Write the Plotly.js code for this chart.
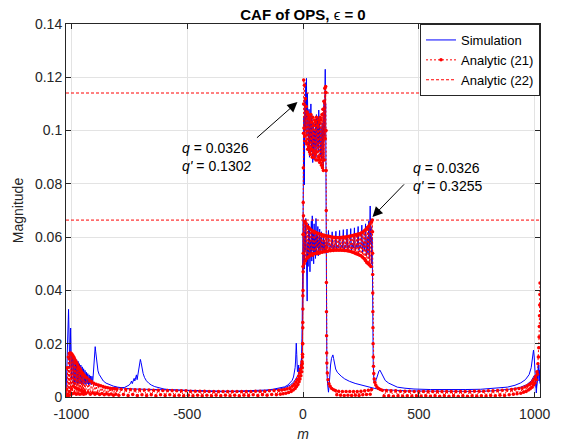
<!DOCTYPE html>
<html><head><meta charset="utf-8">
<script src="https://cdn.plot.ly/plotly-3.0.1.min.js"></script>
<style>html,body{margin:0;padding:0;background:#fff}#chart{width:566px;height:443px}</style>
</head><body><div id="chart"></div>
<script>
// ---- tick labels ----
const xTickVals = [-1000, -500, 0, 500, 1000];
const xTickText = ['-1000', '-500', '0', '500', '1000'];
const yTickVals = [0, 0.02, 0.04, 0.06, 0.08, 0.1, 0.12, 0.14];
const mRange = [-1023, 1023];

// ---- Analytic (22) levels ----
const eq22Levels = [0.1141, 0.0664];

// ---- Simulation, first branch [m, magnitude] ----
const simA = [
[-1023,0.000],[-1021,0.006],[-1019,0.012],[-1017,0.020],[-1015,0.027],[-1013,0.032],[-1012,0.0329],[-1011,0.029],[-1009,0.019],[-1007,0.011],[-1005,0.016],[-1003,0.0259],[-1001,0.017],[-999,0.007],[-997,0.0165],
[-995,0.0160],[-992,0.0050],[-989,0.0152],[-986,0.0046],[-983,0.0147],[-980,0.0052],[-977,0.0140],[-974,0.0047],[-971,0.0134],[-968,0.0051],[-965,0.0125],[-962,0.0049],[-959,0.0120],[-956,0.0050],[-953,0.0113],[-950,0.0048],[-947,0.0106],[-944,0.0050],[-941,0.0100],[-938,0.0047],[-935,0.0093],[-932,0.0049],[-929,0.0088],[-926,0.0046],[-923,0.0083],[-920,0.0048],[-917,0.0079],[-914,0.0046],[-911,0.0078],[-908,0.0050],[-905,0.0088],
[-903,0.0105],[-901,0.0135],[-899,0.0165],[-897,0.0189],[-895,0.0172],[-892,0.0140],[-889,0.0115],[-885,0.0098],[-880,0.0085],[-872,0.0072],[-862,0.0060],[-850,0.0052],[-835,0.0046],[-819,0.0041],[-800,0.0037],[-780,0.0034],[-761,0.0032],[-730,0.0030],[-689,0.0029],[-650,0.0028],[-617,0.0027],[-545,0.0025],[-500,0.0024],[-450,0.0023],[-400,0.0022],[-350,0.0022],[-300,0.0022],[-250,0.0023],[-200,0.0024],[-160,0.0026],[-130,0.0029],[-100,0.0033],[-80,0.0038],[-65,0.0045],[-55,0.0053],[-47,0.0062],[-41,0.0075],[-37,0.0090],[-34,0.0110],[-32,0.0135],[-30,0.0170],[-29,0.0202],[-27,0.0160],[-26,0.0120],[-24,0.0095],[-22,0.0100],[-20,0.0120],[-18,0.0090],[-15,0.0100],[-12,0.0110],[-9,0.0125],[-6,0.0150],[-4,0.0220],[-2,0.0450],[0,0.0800],
[2,0.0800],[4,0.105],[6,0.0796],[8,0.112],[10,0.100],[12,0.118],[14,0.105],[15,0.1196],[17,0.098],[19,0.114],[21,0.095],[22,0.114],[24,0.092],[26,0.108],[28,0.090],[30,0.104],[32,0.0953],[34,0.110],[36,0.092],[38,0.106],[40,0.1015],[42,0.088],[44,0.103],[46,0.092],[48,0.089],[50,0.100],[52,0.094],[54,0.104],[56,0.090],[58,0.106],[61,0.094],[63,0.105],[66,0.092],[68,0.1077],[70,0.095],[72,0.104],[74,0.090],[76,0.0927],[78,0.101],[80,0.089],[83,0.1028],[85,0.092],[87,0.0864],[89,0.105],[91,0.1115],[93,0.098],[94,0.117],[96,0.123],[97,0.105],[98,0.110],[99,0.085],[100,0.045],
[101,0.025],[103,0.010],[106,0.005],[110,0.0018],[113,0.0045],[116,0.0090],[119,0.0120],[123,0.0145],[126,0.0155],[129,0.0158],[132,0.0145],[136,0.0122],[141,0.0105],[148,0.0093],[156,0.0085],[165,0.0078],[180,0.0068],[200,0.0059],[225,0.0051],[250,0.0045],[280,0.0038],[310,0.0032],[335,0.0028],[380,0.0025],[450,0.0023],[550,0.0022],[650,0.0021],[750,0.0021],[820,0.0023],[870,0.0026],[910,0.0031],[940,0.0037],[965,0.0046],[985,0.0060],[998,0.0080],[1003,0.0060],[1007,0.0035],[1011,0.0060],[1015,0.0095],[1018,0.0120],[1021,0.0070],[1023,0.0050]
];

// ---- Simulation, second branch ----
const simB = [
[-905,0.0050],[-900,0.0046],[-890,0.0043],[-880,0.0041],[-860,0.0038],[-840,0.0036],[-815,0.0034],[-790,0.0034],[-770,0.0036],[-758,0.0040],[-750,0.0045],[-744,0.0052],[-740,0.0060],[-737,0.0050],[-733,0.0062],[-729,0.0070],[-726,0.0060],[-722,0.0078],[-719,0.0083],[-716,0.0065],[-712,0.0088],[-708,0.0110],[-705,0.0130],[-702,0.0141],[-699,0.0130],[-695,0.0108],[-690,0.0088],[-684,0.0073],[-676,0.0061],[-666,0.0052],[-655,0.0045],[-640,0.0039],[-620,0.0034],[-600,0.0030],[-570,0.0027],[-530,0.0025],[-480,0.0023],[-420,0.0021],[-350,0.0020],[-280,0.0020],[-220,0.0021],[-170,0.0023],[-130,0.0026],[-100,0.0030],[-75,0.0036],[-55,0.0045],[-40,0.0056],[-30,0.0068],[-22,0.0080],[-16,0.0095],[-11,0.0105],[-7,0.0130],[-4,0.0180],[-2,0.0280],[0,0.0400],
[2,0.052],[4,0.066],[6,0.048],[8,0.062],[10,0.055],[12,0.067],[14,0.050],[16,0.060],[18,0.036],[20,0.058],[22,0.049],[24,0.065],[26,0.053],[28,0.063],[30,0.047],[32,0.059],[34,0.054],[36,0.066],[38,0.051],[40,0.068],[42,0.055],[44,0.062],[46,0.050],[48,0.065],[50,0.054],[52,0.060],[54,0.052],[56,0.067],[58,0.054],[60,0.061],[62,0.056],[64,0.064],[66,0.053],[68,0.059],[70,0.055],[72,0.063],[74,0.054],[76,0.060],[78,0.056],[80,0.062],[82,0.055],[84,0.058],[86,0.054],[88,0.061],[90,0.055],[92,0.059],[94,0.054],[96,0.057],[98,0.055],[100,0.058],
[102,0.057],[106,0.056],[110,0.0625],[113,0.055],[118,0.057],[122,0.056],[126,0.062],[129,0.055],[134,0.057],[138,0.056],[142,0.0622],[145,0.055],[150,0.057],[154,0.056],[158,0.0625],[161,0.055],[166,0.057],[170,0.056],[174,0.0628],[177,0.055],[182,0.057],[186,0.056],[190,0.063],[193,0.055],[198,0.057],[202,0.056],[206,0.0632],[209,0.055],[214,0.057],[218,0.056],[222,0.0635],[225,0.055],[230,0.057],[234,0.056],[238,0.064],[241,0.055],[246,0.057],[250,0.056],[254,0.0645],[257,0.054],[262,0.058],[266,0.055],[270,0.065],[273,0.053],[277,0.060],[280,0.054],[284,0.066],[286,0.052],[288,0.064],[290,0.0717],[292,0.058],[294,0.064],[296,0.050],[298,0.060],[300,0.045],
[301,0.030],[303,0.013],[306,0.006],[310,0.005],[316,0.0065],[322,0.0085],[328,0.0098],[332,0.0101],[337,0.0092],[345,0.0075],[355,0.0062],[370,0.0052],[390,0.0043],[407,0.0037],[440,0.0033],[479,0.0030],[550,0.0028],[623,0.0027],[700,0.0028],[767,0.0029],[830,0.0032],[882,0.0037],[915,0.0044],[940,0.0053],[960,0.0065],[976,0.0084],[985,0.0110],[991,0.0145],[995,0.0176],[998,0.0150],[1001,0.0100],[1004,0.0030],[1007,0.0015],[1010,0.0050],[1013,0.0100],[1016,0.0120],[1019,0.0060],[1021,0.0100],[1023,0.0080]
];

// ---- Analytic (21), first branch ----
const anaA = [
[-1023,0.0000],[-1021,0.0030],[-1019,0.0004],[-1017,0.0110],[-1015,0.0010],[-1013,0.0150],[-1011,0.0006],[-1009,0.0163],[-1007,0.0020],[-1005,0.0165],[-1003,0.0008],[-1001,0.0164],[-999,0.0030],[-997,0.0160],[-995,0.0012],[-993,0.0155],[-991,0.0040],[-989,0.0149],[-987,0.0015],[-985,0.0141],[-983,0.0035],[-981,0.0134],[-979,0.0010],[-977,0.0128],[-975,0.0030],[-973,0.0121],[-971,0.0012],[-969,0.0114],[-967,0.0028],[-965,0.0108],[-963,0.0010],[-961,0.0102],[-959,0.0025],[-957,0.0096],[-955,0.0012],[-953,0.0091],[-951,0.0022],[-949,0.0086],[-947,0.0010],[-945,0.0082],[-943,0.0020],[-941,0.0078],
[-938,0.0012],[-933,0.0072],[-928,0.0018],[-923,0.0065],[-918,0.0010],[-913,0.0058],[-908,0.0016],[-903,0.0052],[-898,0.0010],[-893,0.0048],[-888,0.0014],[-883,0.0045],[-878,0.0009],[-873,0.0042],[-868,0.0013],[-863,0.0039],[-858,0.0008],[-853,0.0037],[-848,0.0012],[-843,0.0035],[-838,0.0008],[-833,0.0033],[-828,0.0011],[-823,0.0032],[-818,0.0007],[-813,0.0031],[-808,0.0010],[-803,0.0030],
[-795,0.0007],[-785,0.0029],[-775,0.0009],[-765,0.0028],[-755,0.0006],[-745,0.0028],[-735,0.0009],[-725,0.0027],[-715,0.0006],[-705,0.0027],[-695,0.0008],[-685,0.0026],[-675,0.0006],[-665,0.0026],[-655,0.0008],[-645,0.0025],[-635,0.0005],[-625,0.0025],[-615,0.0008],[-605,0.0024],[-595,0.0006],[-585,0.0024],[-575,0.0008],[-565,0.0024],[-555,0.0005],[-545,0.0023],[-535,0.0007],[-525,0.0023],[-515,0.0005],[-505,0.0023],[-495,0.0007],[-485,0.0022],[-475,0.0005],[-465,0.0022],[-455,0.0007],[-445,0.0022],[-435,0.0005],[-425,0.0022],[-415,0.0007],[-405,0.0021],[-395,0.0005],[-385,0.0021],[-375,0.0007],[-365,0.0021],[-355,0.0005],[-345,0.0021],[-335,0.0007],[-325,0.0021],[-315,0.0005],[-305,0.0021],[-295,0.0007],[-285,0.0021],[-275,0.0005],[-265,0.0021],[-255,0.0007],[-245,0.0021],[-235,0.0006],[-225,0.0021],[-215,0.0008],[-205,0.0022],[-195,0.0006],[-185,0.0022],[-175,0.0008],[-165,0.0022],[-155,0.0007],[-145,0.0023],[-135,0.0009],[-125,0.0024],[-115,0.0008],[-105,0.0025],
[-98,0.0010],[-92,0.0026],[-86,0.0012],[-80,0.0028],[-74,0.0014],[-68,0.0031],[-62,0.0017],[-56,0.0035],[-51,0.0021],[-46,0.0041],[-42,0.0026],[-38,0.0048],[-34,0.0032],[-31,0.0056],[-28,0.0039],[-25,0.0066],[-22,0.0047],[-19,0.0078],[-17,0.0057],[-15,0.0090],[-13,0.0068],[-11,0.0104],[-9,0.0080],[-7,0.0118],[-5,0.0095],[-4,0.0132],[-3,0.0110],[-2,0.0150],
[-1.5,0.020],[-1,0.028],[-0.5,0.038],[0,0.049],[0.5,0.061],[1,0.073],[1.5,0.086],[2,0.099],[2.5,0.110],[3,0.119],
[4,0.101],[6,0.117],[8,0.098],[10,0.112],[12,0.096],[14,0.109],[16,0.095],[18,0.107],[20,0.093],[22,0.106],[24,0.094],[26,0.105],[28,0.092],[30,0.104],[32,0.091],[34,0.106],[36,0.093],[38,0.103],[40,0.090],[42,0.105],[44,0.092],[46,0.102],[48,0.090],[50,0.104],[52,0.091],[54,0.103],[56,0.089],[58,0.105],[60,0.092],[62,0.102],[64,0.089],[66,0.104],[68,0.090],[70,0.103],[72,0.088],[74,0.105],[76,0.089],[78,0.104],[80,0.087],[82,0.106],[84,0.086],[86,0.108],[88,0.085],[90,0.111],[92,0.089],[94,0.1159],[96,0.097],[98,0.1165],
[99,0.1143],[99.5,0.100],[100,0.085],[100.3,0.070],[100.6,0.056],[101,0.043],[101.4,0.032],[101.8,0.023],[102.3,0.0165],[103,0.0128],[105,0.0090],[108,0.0065],[112,0.0050],[117,0.0040],[124,0.0032],[132,0.0027],[140,0.0024],
[146,0.0008],[154,0.0022],[162,0.0007],[170,0.0021],[178,0.0006],[186,0.0021],[194,0.0007],[202,0.0021],[210,0.0006],[218,0.0021],[226,0.0007],[234,0.0021],[242,0.0006],[250,0.0022],[258,0.0008],[266,0.0023],[274,0.0009],[282,0.0025],[290,0.0010],[296,0.0028]
];

// ---- Analytic (21), second branch ----
const anaB = [
[-3,0.0125],[-2,0.016],[-1.5,0.020],[-1,0.026],[-0.5,0.033],[0,0.040],[0.5,0.047],[1,0.054],[1.5,0.061],[2,0.068],
[5,0.050],[8,0.066],[11,0.051],[14,0.065],[17,0.052],[20,0.064],[23,0.0525],[26,0.0635],[29,0.053],[32,0.063],[35,0.0535],[38,0.0625],[41,0.0532],[44,0.0622],[47,0.0538],[50,0.062],[53,0.054],[56,0.0617],[59,0.0538],[62,0.0615],[65,0.0542],[68,0.0613],[71,0.054],[74,0.0612],[77,0.0544],[80,0.061],[83,0.0543],[86,0.0608],[89,0.0546],[92,0.0607],[95,0.0545],[98,0.0605],[101,0.0548],[104,0.0604],[107,0.0547],[110,0.0603],[113,0.055],[116,0.0602],[119,0.0549],[122,0.0601],[125,0.0551],[128,0.060],[131,0.055],[134,0.060],[137,0.0552],[140,0.0599],[143,0.0551],[146,0.0599],[149,0.0552],[152,0.0598],[155,0.0551],[158,0.0599],[161,0.0552],[164,0.0599],[167,0.0551],[170,0.060],[173,0.0551],[176,0.060],[179,0.055],[182,0.0601],[185,0.055],[188,0.0601],[191,0.0549],[194,0.0602],[197,0.0548],[200,0.0603],[203,0.0547],[206,0.0604],[209,0.0545],[212,0.0605],[215,0.0543],[218,0.0607],[221,0.0541],[224,0.0608],[227,0.0539],[230,0.061],[233,0.0537],[236,0.0611],[239,0.0535],[242,0.0613],[245,0.0532],[248,0.0614],[251,0.053],[254,0.0617],[257,0.0525],[260,0.062],[263,0.052],[266,0.0625],[269,0.0512],[272,0.063],[275,0.0505],[278,0.0636],[281,0.050],[284,0.0642],[287,0.0495],[290,0.065],[293,0.049],[296,0.0658],[299,0.0664],
[300,0.062],[300.4,0.054],[300.8,0.046],[301.2,0.039],[301.6,0.032],[302,0.026],[302.6,0.020],[303.3,0.015],[304.2,0.0115],[305.5,0.0088],[307.5,0.0068],[310,0.0055],[314,0.0045],[319,0.0038],[326,0.0032],[334,0.0028],[342,0.0025],
[350,0.0004],[360,0.0024],[370,0.0005],[380,0.0023],[390,0.0003],[400,0.0023],[410,0.0005],[420,0.0022],[430,0.0003],[440,0.0022],[450,0.0005],[460,0.0022],[470,0.0003],[480,0.0021],[490,0.0005],[500,0.0021],[510,0.0003],[520,0.0021],[530,0.0005],[540,0.0021],[550,0.0003],[560,0.0021],[570,0.0005],[580,0.0021],[590,0.0003],[600,0.0021],[610,0.0005],[620,0.0021],[630,0.0003],[640,0.0021],[650,0.0005],[660,0.0021],[670,0.0003],[680,0.0021],[690,0.0005],[700,0.0021],[710,0.0003],[720,0.0021],[730,0.0005],[740,0.0022],[750,0.0003],[760,0.0022],[770,0.0005],[780,0.0022],[790,0.0004],[800,0.0023],[810,0.0006],[820,0.0023],[830,0.0005],[840,0.0024],[850,0.0007],[860,0.0025],[870,0.0006],[880,0.0026],[890,0.0008],[900,0.0028],[908,0.0010],[916,0.0030],[924,0.0012],[932,0.0032],[940,0.0014],[946,0.0034],[952,0.0018],[958,0.0038],[963,0.0021],[968,0.0042],[973,0.0026],[977,0.0047],[981,0.0031],[985,0.0053],[989,0.0037],[992,0.0060],[995,0.0045],[998,0.0068],[1001,0.0053],[1004,0.0078],[1007,0.0065],[1010,0.0095],[1012,0.0085],[1014,0.0125],[1016,0.0150],[1017.5,0.0185],[1019,0.0225],[1020,0.0265],[1021,0.0305],[1021.8,0.0345],[1022.5,0.0385],[1023,0.0428]
];

function joinSegments(segs) {
  const x = [], y = [];
  segs.forEach((s, i) => {
    if (i) { x.push(null); y.push(null); }
    s.forEach(p => { x.push(p[0]); y.push(p[1]); });
  });
  return { x, y };
}

const FONT = 'Liberation Sans, Arial, Helvetica, sans-serif';
const AX = '#262626';

const sim = joinSegments([simA, simB]);
const ana = joinSegments([anaA, anaB]);
const lvl = joinSegments(eq22Levels.map(v => [[mRange[0], v], [mRange[1], v]]));

const traces = [
  { x: sim.x, y: sim.y, name: 'Simulation', type: 'scatter', mode: 'lines',
    line: { color: '#0000ff', width: 1 }, connectgaps: false },
  { x: ana.x, y: ana.y, name: 'Analytic (21)', type: 'scatter', mode: 'lines+markers',
    line: { color: '#ff0000', width: 1, dash: '2px,2px' },
    marker: { color: '#ff0000', size: 3.5, symbol: 'circle' }, connectgaps: false },
  { x: lvl.x, y: lvl.y, name: 'Analytic (22)', type: 'scatter', mode: 'lines',
    line: { color: '#ff0000', width: 1, dash: '3px,2px' }, connectgaps: false }
];

const layout = {
  width: 566, height: 443,
  margin: { l: 66, r: 26, t: 24, b: 46 },
  paper_bgcolor: '#ffffff', plot_bgcolor: '#ffffff',
  font: { family: FONT, size: 14, color: AX },
  showlegend: true,
  title: { text: '<b>CAF of OPS, </b>ϵ<b> = 0</b>', font: { family: FONT, size: 15, color: '#000' },
           x: 0.5, xref: 'paper', xanchor: 'center', y: 1 - 15/443, yref: 'container', yanchor: 'middle' },
  xaxis: {
    range: mRange, tickmode: 'array', tickvals: xTickVals, ticktext: xTickText,
    showgrid: true, gridcolor: '#e3e3e3', zeroline: false,
    showline: true, linecolor: AX, linewidth: 1, mirror: 'ticks',
    ticks: 'inside', ticklen: 5, tickcolor: AX, tickfont: { size: 14, color: AX },
    ticklabelstandoff: 4,
    title: { text: '<i>m</i>', font: { size: 14, color: AX }, standoff: 8 }
  },
  yaxis: {
    range: [0, 0.14], tickmode: 'array', tickvals: yTickVals,
    showgrid: true, gridcolor: '#e3e3e3', zeroline: false,
    showline: true, linecolor: AX, linewidth: 1, mirror: 'ticks',
    ticks: 'inside', ticklen: 5, tickcolor: AX, tickfont: { size: 14, color: AX },
    title: { text: 'Magnitude', font: { size: 14, color: AX }, standoff: 8 }
  },
  legend: {
    x: 1, y: 1, xanchor: 'right', yanchor: 'top', xref: 'paper', yref: 'paper',
    bgcolor: '#ffffff', bordercolor: AX, borderwidth: 1,
    font: { size: 13, color: '#000' }, tracegroupgap: 0
  },
  annotations: [
    { x: -24, y: 0.1107, xref: 'x', yref: 'y', ax: -42, ay: 37, text: '', showarrow: true,
      arrowhead: 2, arrowsize: 2, arrowwidth: 1, arrowcolor: '#000', standoff: 0 },
    { x: 300, y: 0.0676, xref: 'x', yref: 'y', ax: 33, ay: -34, text: '', showarrow: true,
      arrowhead: 2, arrowsize: 2, arrowwidth: 1, arrowcolor: '#000', standoff: 0 },
    { x: -529, y: 0.0901, xref: 'x', yref: 'y', showarrow: false, xanchor: 'left', yanchor: 'middle', align: 'left',
      text: '<i>q</i> = 0.0326<br><i>q\'</i> = 0.1302', font: { size: 14, color: '#000' } },
    { x: 464, y: 0.0824, xref: 'x', yref: 'y', showarrow: false, xanchor: 'left', yanchor: 'middle', align: 'left',
      text: '<i>q</i> = 0.0326<br><i>q\'</i> = 0.3255', font: { size: 14, color: '#000' } }
  ]
};

Plotly.newPlot('chart', traces, layout, { staticPlot: true, displayModeBar: false });
</script>
</body></html>
